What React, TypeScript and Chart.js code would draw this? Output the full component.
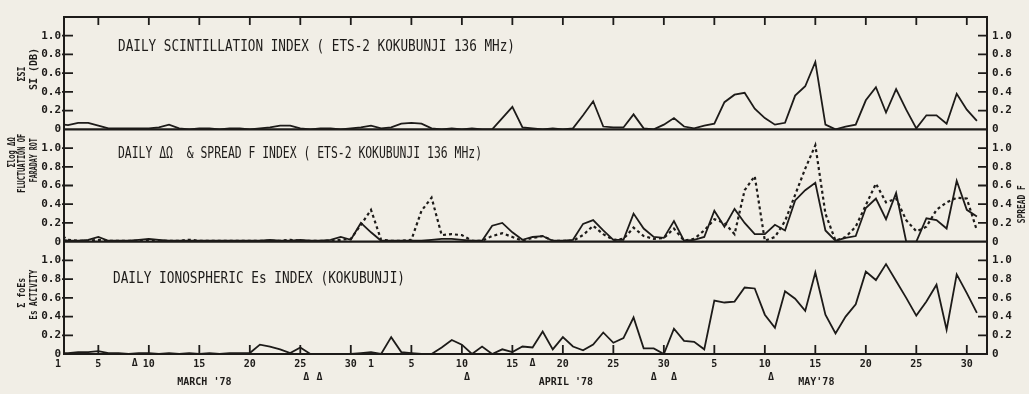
import React, { useEffect, useRef } from 'react';
import { Chart, registerables } from 'chart.js';

Chart.register(...registerables);

const INK = '#1d1b19';
const PAPER = '#f1eee6';
const MONO = "'DejaVu Sans Mono', 'Liberation Mono', monospace";

// Daily values, index 0 = 1 March 1978 ... index 91 = 31 May 1978
const SI_VALUES = [
  0.06, 0.045, 0.07, 0.07, 0.04, 0.01, 0.01, 0.01, 0.01, 0.01,
  0.02, 0.05, 0.01, 0.0, 0.01, 0.01, 0.0, 0.01, 0.01, 0.0,
  0.01, 0.02, 0.04, 0.04, 0.01, 0.0, 0.01, 0.01, 0.0, 0.01,
  0.02, 0.04, 0.01, 0.02, 0.06, 0.07, 0.06, 0.01, 0.0, 0.01,
  0.0, 0.01, 0.0, 0.0, 0.12, 0.24, 0.02, 0.01, 0.0, 0.01,
  0.0, 0.01, 0.15, 0.3, 0.03, 0.02, 0.02, 0.16, 0.01, 0.0,
  0.05, 0.12, 0.03, 0.01, 0.04, 0.06, 0.29, 0.37, 0.39, 0.22,
  0.12, 0.05, 0.07, 0.36, 0.46, 0.72, 0.05, 0.0, 0.03, 0.05,
  0.31, 0.45, 0.18, 0.43, 0.21, 0.01, 0.15, 0.15, 0.06, 0.38,
  0.21, 0.09,
];

const DOMEGA_VALUES = [
  0.03, 0.01, 0.01, 0.02, 0.05, 0.01, 0.01, 0.01, 0.02, 0.03,
  0.02, 0.01, 0.01, 0.01, 0.01, 0.01, 0.01, 0.01, 0.01, 0.01,
  0.01, 0.02, 0.01, 0.01, 0.02, 0.01, 0.01, 0.02, 0.05, 0.02,
  0.2, 0.1, 0.01, 0.01, 0.01, 0.01, 0.01, 0.02, 0.03, 0.03,
  0.02, 0.01, 0.01, 0.17, 0.2, 0.1, 0.02, 0.05, 0.06, 0.01,
  0.01, 0.02, 0.19, 0.23, 0.12, 0.02, 0.02, 0.3, 0.14, 0.05,
  0.04, 0.22, 0.01, 0.02, 0.05, 0.33, 0.16, 0.35, 0.2, 0.08,
  0.08, 0.18, 0.12, 0.44, 0.55, 0.63, 0.12, 0.01, 0.04, 0.06,
  0.36, 0.46, 0.24, 0.52, 0.0, 0.0, 0.25, 0.23, 0.14, 0.65,
  0.34, 0.27,
];

const SPREADF_VALUES = [
  0.09, 0.02, 0.01, 0.01, 0.02, 0.01, 0.01, 0.01, 0.01, 0.02,
  0.01, 0.01, 0.01, 0.02, 0.01, 0.01, 0.01, 0.01, 0.01, 0.01,
  0.01, 0.01, 0.01, 0.02, 0.01, 0.01, 0.01, 0.01, 0.02, 0.03,
  0.18, 0.34, 0.02, 0.01, 0.01, 0.02, 0.33, 0.47, 0.07, 0.08,
  0.07, 0.01, 0.01, 0.06, 0.09, 0.05, 0.01, 0.04, 0.06, 0.01,
  0.01, 0.01, 0.07, 0.17, 0.08, 0.02, 0.03, 0.15, 0.06, 0.03,
  0.04, 0.14, 0.01, 0.03, 0.12, 0.24, 0.2, 0.08, 0.55, 0.7,
  0.01, 0.05, 0.22, 0.5, 0.78, 1.03, 0.3, 0.01, 0.05, 0.16,
  0.39, 0.62, 0.42, 0.46, 0.23, 0.11, 0.16, 0.34, 0.42, 0.47,
  0.46, 0.12,
];

const ES_VALUES = [
  0.01, 0.01, 0.02, 0.02, 0.03, 0.01, 0.01, 0.0, 0.01, 0.01,
  0.0, 0.01, 0.0, 0.01, 0.0, 0.01, 0.0, 0.01, 0.01, 0.01,
  0.1, 0.08, 0.05, 0.01, 0.07, 0.0, 0.0, 0.0, 0.0, 0.0,
  0.01, 0.02, 0.0, 0.18, 0.02, 0.01, 0.0, 0.0, 0.07, 0.15,
  0.1, 0.0, 0.08, 0.0, 0.05, 0.02, 0.08, 0.07, 0.24, 0.05,
  0.18, 0.08, 0.04, 0.1, 0.23, 0.12, 0.17, 0.39, 0.06, 0.06,
  0.0, 0.27, 0.14, 0.13, 0.05, 0.57, 0.55, 0.56, 0.71, 0.7,
  0.42, 0.28, 0.67, 0.59, 0.46, 0.87, 0.42, 0.22, 0.4, 0.53,
  0.88, 0.79, 0.96, 0.78, 0.6, 0.41, 0.56, 0.74, 0.26, 0.85,
  0.65, 0.44,
];

// Axis ticks / labels
const X_TICK_DAYS = [0, 4, 9, 14, 19, 24, 29, 31, 35, 40, 45, 50, 55, 60, 65, 70, 75, 80, 85, 90];
const X_TICK_LABELS = ['1', '5', '10', '15', '20', '25', '30', '1', '5', '10', '15', '20', '25', '30', '5', '10', '15', '20', '25', '30'];
const X_MARK_DAYS = [4, 9, 14, 19, 24, 29, 35, 40, 45, 50, 55, 60, 65, 70, 75, 80, 85, 90];
const Y_TICKS = [0, 0.2, 0.4, 0.6, 0.8, 1.0];
const MONTH_LABELS = ["MARCH '78", "APRIL '78", "MAY'78"];
const MONTH_CENTERS = [14.5, 50.3, 75.1];
const TRIANGLE_DAYS = [7.6, 24.6, 25.9, 40.5, 47, 59, 61, 70.6];
const TRIANGLE_ROWS = [0, 1, 1, 1, 0, 1, 1, 1];

const PANEL_TITLES = [
  'DAILY SCINTILLATION INDEX ( ETS-2 KOKUBUNJI 136 MHz)',
  'DAILY \u0394\u03A9  & SPREAD F INDEX ( ETS-2 KOKUBUNJI 136 MHz)',
  'DAILY IONOSPHERIC Es INDEX (KOKUBUNJI)',
];
const LEFT_TITLES = [
  ['\u03A3SI', 'SI (DB)'],
  ['\u03A3log \u0394\u03A9', 'FLUCTUATION OF', 'FARADAY ROT'],
  ['\u03A3 foEs', 'Es ACTIVITY'],
];
const RIGHT_TITLE = 'SPREAD F';

const toPoints = (arr: number[]) => arr.map((v, i) => ({ x: i, y: v }));

function fitText(ctx: CanvasRenderingContext2D, text: string, x: number, y: number, width: number, rotate = false) {
  const w = ctx.measureText(text).width;
  ctx.save();
  ctx.translate(x, y);
  if (rotate) ctx.rotate(-Math.PI / 2);
  ctx.scale(width / w, 1);
  ctx.fillText(text, 0, 0);
  ctx.restore();
}

const decor = {
  id: 'decor',
  beforeDraw(chart: any) {
    const { ctx, width, height } = chart;
    ctx.save();
    ctx.fillStyle = PAPER;
    ctx.fillRect(0, 0, width, height);
    ctx.restore();
  },
  afterDraw(chart: any) {
    const { ctx, chartArea: a, scales } = chart;
    const x = scales.x;
    const panels = [scales.yTop, scales.yMid, scales.yBot];
    ctx.save();
    ctx.strokeStyle = INK;
    ctx.fillStyle = INK;
    ctx.lineCap = 'butt';

    // frame + panel separators
    ctx.lineWidth = 2;
    ctx.strokeRect(a.left, a.top, a.right - a.left, a.bottom - a.top);
    ctx.lineWidth = 2.4;
    [scales.yTop, scales.yMid].forEach((s: any) => {
      const py = s.getPixelForValue(0);
      ctx.beginPath();
      ctx.moveTo(a.left, py);
      ctx.lineTo(a.right, py);
      ctx.stroke();
    });

    // x tick marks (inward, bottom and top)
    ctx.lineWidth = 1.8;
    X_MARK_DAYS.forEach((d) => {
      const px = x.getPixelForValue(d);
      ctx.beginPath();
      ctx.moveTo(px, a.bottom);
      ctx.lineTo(px, a.bottom - 9);
      ctx.moveTo(px, a.top);
      ctx.lineTo(px, a.top + 8);
      ctx.stroke();
    });

    // y tick marks
    panels.forEach((s: any) => {
      Y_TICKS.slice(1).forEach((v) => {
        const py = s.getPixelForValue(v);
        ctx.beginPath();
        ctx.moveTo(a.left - 2, py);
        ctx.lineTo(a.left + 9, py);
        ctx.moveTo(a.right - 9, py);
        ctx.lineTo(a.right, py);
        ctx.stroke();
      });
    });

    // panel titles
    ctx.font = `15px ${MONO}`;
    ctx.textAlign = 'left';
    ctx.textBaseline = 'alphabetic';
    const titleWidths = [397, 364, 292];
    const titleX = [118, 118, 113];
    const titleDy = [34, 29, 41];
    panels.forEach((s: any, i: number) => {
      fitText(ctx, PANEL_TITLES[i], titleX[i], s.top + titleDy[i], titleWidths[i]);
    });

    // rotated axis titles
    ctx.font = `bold 10px ${MONO}`;
    ctx.textAlign = 'center';
    ctx.textBaseline = 'middle';
    const leftCols = [[22, 34], [12.5, 22.5, 34], [22, 34]];
    const leftOffsets = [[57, 52], [23, 34, 31], [51, 53]];
    const leftLens = [[15, 42], [30, 59, 44], [30, 50]];
    panels.forEach((s: any, i: number) => {
      LEFT_TITLES[i].forEach((t, j) => {
        fitText(ctx, t, leftCols[i][j], s.top + leftOffsets[i][j], leftLens[i][j], true);
      });
    });
    fitText(ctx, RIGHT_TITLE, 1022, scales.yMid.top + 75, 38, true);

    // triangles and month labels
    ctx.font = `bold 10px ${MONO}`;
    ctx.textAlign = 'center';
    ctx.textBaseline = 'middle';
    TRIANGLE_DAYS.forEach((d, i) => {
      ctx.fillText('\u0394', x.getPixelForValue(d), a.bottom + (TRIANGLE_ROWS[i] ? 23 : 9));
    });
    MONTH_LABELS.forEach((m, i) => {
      ctx.fillText(m, x.getPixelForValue(MONTH_CENTERS[i]), a.bottom + 28);
    });
    ctx.restore();
  },
};

function yAxis(stack: string, position: 'left' | 'right') {
  return {
    type: 'linear',
    position,
    stack,
    stackWeight: 1,
    min: 0,
    max: 1.2,
    afterBuildTicks: (s: any) => {
      s.ticks = Y_TICKS.map((v) => ({ value: v }));
    },
    afterFit: (s: any) => {
      s.width = position === 'left' ? 64 : 42;
    },
    grid: { display: false, drawTicks: false },
    border: { display: false },
    ticks: {
      autoSkip: false,
      color: INK,
      font: { family: MONO, size: 11, weight: 'bold' },
      padding: position === 'left' ? 3 : 5,
      callback: (v: number) => (v === 0 ? '0' : v.toFixed(1)),
    },
  };
}

export default function App() {
  const ref = useRef<HTMLCanvasElement | null>(null);
  useEffect(() => {
    if (!ref.current) return;
    const chart = new Chart(ref.current, {
      type: 'line',
      data: {
        datasets: [
          { label: 'SI', data: toPoints(SI_VALUES), yAxisID: 'yTop', borderColor: INK, borderWidth: 1.8, pointRadius: 0, tension: 0 },
          { label: 'dOmega', data: toPoints(DOMEGA_VALUES), yAxisID: 'yMid', borderColor: INK, borderWidth: 1.8, pointRadius: 0, tension: 0 },
          { label: 'Spread F', data: toPoints(SPREADF_VALUES), yAxisID: 'yMid', borderColor: INK, borderWidth: 2.2, borderDash: [3, 3], pointRadius: 0, tension: 0 },
          { label: 'Es', data: toPoints(ES_VALUES), yAxisID: 'yBot', borderColor: INK, borderWidth: 1.8, pointRadius: 0, tension: 0 },
        ],
      },
      options: {
        animation: false,
        responsive: false,
        devicePixelRatio: 1,
        layout: { padding: { top: 17, left: 0, right: 0, bottom: 0 } },
        plugins: { legend: { display: false }, tooltip: { enabled: false } },
        scales: {
          x: {
            type: 'linear',
            position: 'bottom',
            min: 0.6,
            max: 92,
            afterBuildTicks: (s: any) => {
              s.ticks = X_TICK_DAYS.map((v) => ({ value: v }));
            },
            afterFit: (s: any) => {
              s.height = 40;
            },
            grid: { display: false, drawTicks: false },
            border: { display: false },
            ticks: {
              autoSkip: false,
              maxRotation: 0,
              color: INK,
              padding: 4,
              font: { family: MONO, size: 10, weight: 'bold' },
              callback: (v: number) => {
                const k = X_TICK_DAYS.indexOf(v);
                return k >= 0 ? X_TICK_LABELS[k] : '';
              },
            },
          },
          // stacked axes are laid out bottom-first
          yBot: yAxis('L', 'left'),
          yMid: yAxis('L', 'left'),
          yTop: yAxis('L', 'left'),
          yBotR: yAxis('R', 'right'),
          yMidR: yAxis('R', 'right'),
          yTopR: yAxis('R', 'right'),
        } as any,
      },
      plugins: [decor],
    } as any);
    return () => chart.destroy();
  }, []);
  return (
    <div style={{ position: 'absolute', left: 0, top: 0, width: 1029, height: 394 }}>
      <canvas ref={ref} width={1029} height={394} style={{ width: 1029, height: 394, display: 'block' }} />
    </div>
  );
}
